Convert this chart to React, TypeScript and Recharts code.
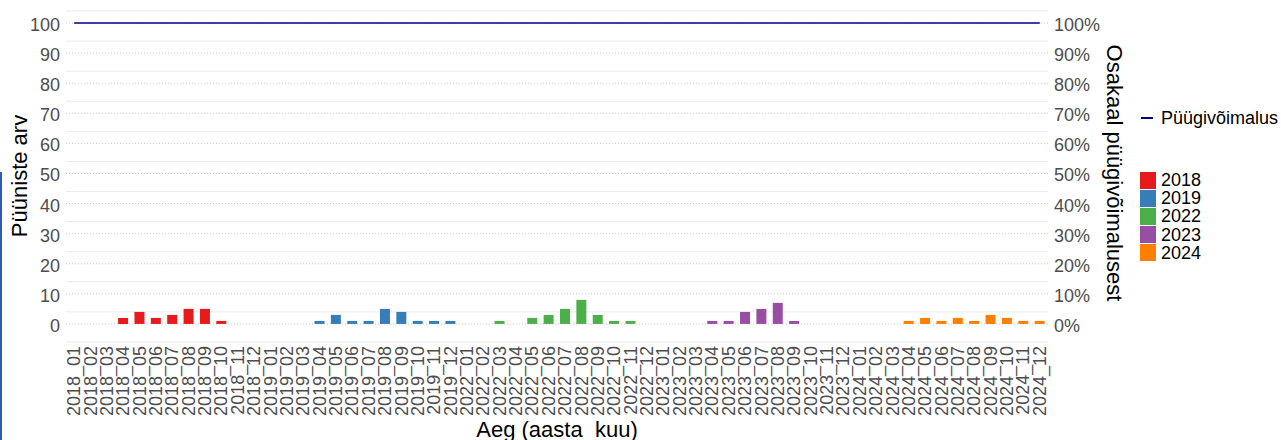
import React from "react";
import { ComposedChart, Bar, Line, XAxis, YAxis, CartesianGrid, Legend } from "recharts";

const years = ["2018", "2019", "2022", "2023", "2024"];
const monthCodes = ["01", "02", "03", "04", "05", "06", "07", "08", "09", "10", "11", "12"];
const yearColors = ["#E41A1C", "#377EB8", "#4DAF4A", "#984EA3", "#FF7F00"];

// trap counts per month
const counts2018 = [0, 0, 0, 2, 4, 2, 3, 5, 5, 1, 0, 0];
const counts2019 = [0, 0, 0, 1, 3, 1, 1, 5, 4, 1, 1, 1];
const counts2022 = [0, 0, 1, 0, 2, 3, 5, 8, 3, 1, 1, 0];
const counts2023 = [0, 0, 0, 1, 1, 4, 5, 7, 1, 0, 0, 0];
const counts2024 = [0, 0, 0, 1, 2, 1, 2, 1, 3, 2, 1, 1];
const countsByYear = [counts2018, counts2019, counts2022, counts2023, counts2024];

const quotaLevel = 100;
const quotaColor = "#00008B";

const majorTicks = [0, 10, 20, 30, 40, 50, 60, 70, 80, 90, 100];
const minorGrid = [-6, 4, 14, 24, 34, 44, 54, 64, 74, 84, 94, 104];

const data = years.flatMap((yr, yi) =>
  monthCodes.map((m, mi) => {
    const row: Record<string, string | number> = { month: `${yr}_${m}`, quota: quotaLevel };
    row[yr] = countsByYear[yi][mi];
    return row;
  })
);

const FONT = '"Liberation Sans", Arial, sans-serif';
const TICK_COLOR = "#4d4d4d";

const XTick = ({ x, y, payload }: any) => (
  <text
    x={x}
    y={y}
    transform={`rotate(-90 ${x} ${y})`}
    textAnchor="end"
    dominantBaseline="central"
    fontSize={18}
    fontFamily={FONT}
    fill={TICK_COLOR}
  >
    {payload.value}
  </text>
);

const LeftTick = ({ x, y, payload }: any) => (
  <text x={x} y={y + 2} textAnchor="end" dominantBaseline="central" fontSize={18} fontFamily={FONT} fill={TICK_COLOR}>
    {payload.value}
  </text>
);

const RightTick = ({ x, y, payload }: any) => (
  <text x={x} y={y + 2} textAnchor="start" dominantBaseline="central" fontSize={18} fontFamily={FONT} fill={TICK_COLOR}>
    {`${payload.value}%`}
  </text>
);

const renderLegend = () => (
  <div style={{ fontFamily: FONT, fontSize: 18, lineHeight: "18px", color: "#000", whiteSpace: "nowrap" }}>
    <div style={{ display: "flex", alignItems: "center", height: 18 }}>
      <span style={{ display: "inline-block", width: 12, height: 2, background: quotaColor, marginLeft: 1, marginRight: 8 }} />
      <span>Püügivõimalus</span>
    </div>
    <div style={{ marginTop: 44 }}>
      {years.map((yr, i) => (
        <div key={yr} style={{ display: "flex", alignItems: "center", height: 18.2 }}>
          <span style={{ display: "inline-block", width: 16, height: 17, background: yearColors[i], marginRight: 5 }} />
          <span>{yr}</span>
        </div>
      ))}
    </div>
  </div>
);

export default function App() {
  return (
    <div style={{ position: "absolute", left: 0, top: 0, width: 1281, height: 440, overflow: "hidden", background: "#fff" }}>
      <ComposedChart width={1281} height={440} data={data} margin={{ top: 5, right: 173, bottom: 0, left: 0 }}>
        <CartesianGrid vertical={false} horizontalValues={minorGrid} stroke="#ebebeb" strokeWidth={1} />
        <CartesianGrid vertical={false} horizontalValues={majorTicks} stroke="#c8c8c8" strokeDasharray="1 2" strokeWidth={1} />
        <XAxis
          dataKey="month"
          interval={0}
          height={95}
          tick={XTick}
          tickLine={false}
          axisLine={false}
          tickSize={1}
          tickMargin={0}
        />
        <YAxis
          domain={[-7, 106]}
          ticks={majorTicks}
          width={66}
          tick={LeftTick}
          tickLine={false}
          axisLine={false}
          tickSize={4}
          tickMargin={2}
          allowDataOverflow
        />
        <YAxis
          yAxisId="right"
          orientation="right"
          domain={[-7, 106]}
          ticks={majorTicks}
          width={60}
          tick={RightTick}
          tickLine={false}
          axisLine={false}
          tickSize={4}
          tickMargin={2}
          allowDataOverflow
        />
        {years.map((yr, i) => (
          <Bar key={yr} dataKey={yr} stackId="count" fill={yearColors[i]} barSize={10} isAnimationActive={false} />
        ))}
        <Line
          dataKey="quota"
          name="Püügivõimalus"
          stroke={quotaColor}
          strokeWidth={1.6}
          dot={false}
          activeDot={false}
          isAnimationActive={false}
        />
        <Legend
          layout="vertical"
          align="center"
          verticalAlign="middle"
          content={renderLegend}
          wrapperStyle={{ left: 1140, top: 109, width: 160 }}
        />
      </ComposedChart>
      <svg width={1281} height={440} style={{ position: "absolute", left: 0, top: 0, pointerEvents: "none" }}>
        <text x={27} y={176} transform="rotate(-90 27 176)" textAnchor="middle" fontSize={22} fontFamily={FONT} fill="#000">
          Püüniste arv
        </text>
        <text x={1107} y={173} transform="rotate(90 1107 173)" textAnchor="middle" fontSize={22} fontFamily={FONT} fill="#000">
          Osakaal püügivõimalusest
        </text>
        <text x={557} y={437} textAnchor="middle" fontSize={22} fontFamily={FONT} fill="#000">
          Aeg (aasta_kuu)
        </text>
      </svg>
      <div style={{ position: "absolute", left: 0, top: 172, width: 2, height: 268, background: "#2e5cae" }} />
    </div>
  );
}
